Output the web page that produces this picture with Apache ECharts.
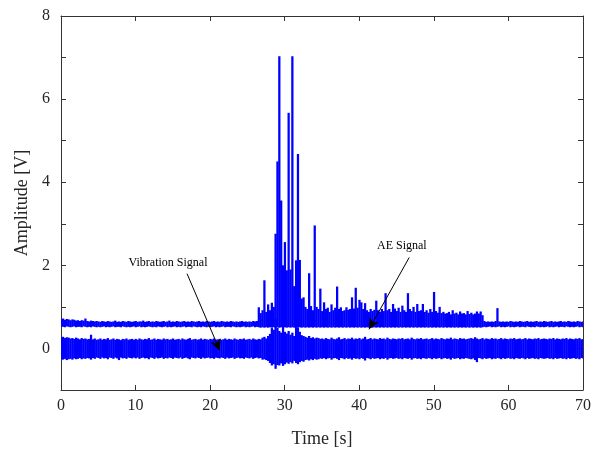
<!DOCTYPE html>
<html>
<head>
<meta charset="utf-8">
<script src="https://cdn.jsdelivr.net/npm/echarts@6/dist/echarts.min.js"></script>
<style>html,body{margin:0;padding:0;background:#fff;}#c{width:599px;height:450px;}</style>
</head>
<body>
<div id="c"></div>
<script>
// Sampling step of the envelope arrays (seconds)
var STEP = 0.25;
var X_TICKS = [0, 10, 20, 30, 40, 50, 60, 70];
var Y_TICKS = [0, 2, 4, 6, 8];

// AE signal: per-sample upper envelope
var aeHigh = [
0.70,0.72,0.69,0.71,0.70,0.68,0.70,0.69,0.67,0.68,0.66,0.68,0.67,0.72,0.66,0.65,0.67,0.66,0.65,0.66,
0.65,0.64,0.66,0.65,0.64,0.66,0.65,0.64,0.65,0.67,0.64,0.65,0.64,0.66,0.65,0.64,0.66,0.65,0.64,0.65,
0.66,0.64,0.65,0.65,0.67,0.64,0.65,0.66,0.64,0.65,0.64,0.66,0.65,0.64,0.65,0.66,0.64,0.65,0.67,0.64,
0.65,0.64,0.66,0.65,0.64,0.65,0.66,0.64,0.65,0.64,0.66,0.65,0.64,0.65,0.66,0.64,0.65,0.64,0.66,0.65,
0.64,0.65,0.66,0.64,0.65,0.64,0.66,0.65,0.64,0.65,0.64,0.66,0.65,0.64,0.65,0.64,0.65,0.66,0.64,0.65,
0.64,0.65,0.64,0.66,0.65,0.66,0.99,0.85,0.92,1.64,0.88,1.06,0.92,1.10,1.00,2.76,4.50,7.03,3.56,2.00,
2.56,1.88,5.67,1.90,7.03,1.50,2.12,4.68,2.13,1.20,1.23,1.00,0.95,1.81,1.02,0.92,2.96,1.00,0.95,1.44,
0.90,1.11,0.95,0.98,0.88,1.06,0.92,0.98,1.49,0.95,0.99,0.90,0.92,0.99,0.93,0.95,1.23,0.96,1.46,0.98,
1.17,1.11,0.95,1.09,0.92,0.88,0.95,0.90,0.93,1.15,0.92,0.88,0.95,0.90,1.33,0.92,0.95,0.88,1.07,0.96,
0.90,0.98,0.88,1.03,0.92,0.88,1.33,0.95,0.90,1.00,0.88,1.07,0.90,0.92,1.07,0.88,0.92,0.86,0.95,0.88,
1.36,0.90,0.86,1.00,0.85,0.88,0.84,0.85,0.88,0.82,0.92,0.84,0.86,0.82,0.89,0.84,0.85,0.82,0.90,0.83,
0.86,0.82,0.84,0.89,0.84,0.89,0.80,0.66,0.64,0.65,0.64,0.65,0.64,0.66,0.97,0.65,0.64,0.65,0.64,0.65,
0.64,0.66,0.65,0.64,0.65,0.64,0.66,0.65,0.64,0.65,0.66,0.64,0.65,0.64,0.65,0.66,0.64,0.65,0.64,0.66,
0.65,0.64,0.65,0.66,0.64,0.65,0.64,0.65,0.66,0.64,0.65,0.64,0.66,0.65,0.64,0.65,0.64,0.66,0.65,0.64,0.65
];
// AE signal: per-sample lower envelope
var aeLow = [
0.53,0.52,0.51,0.53,0.52,0.51,0.52,0.53,0.51,0.52,0.52,0.51,0.53,0.52,0.51,0.52,0.51,0.53,0.52,0.51,
0.52,0.51,0.52,0.53,0.51,0.52,0.51,0.52,0.53,0.51,0.52,0.52,0.51,0.53,0.52,0.51,0.52,0.51,0.52,0.53,
0.51,0.52,0.53,0.51,0.52,0.51,0.52,0.53,0.52,0.51,0.52,0.51,0.53,0.52,0.51,0.52,0.53,0.51,0.52,0.51,
0.52,0.53,0.51,0.52,0.51,0.52,0.53,0.51,0.52,0.52,0.51,0.53,0.52,0.51,0.52,0.51,0.53,0.52,0.51,0.52,
0.51,0.52,0.53,0.51,0.52,0.51,0.52,0.53,0.51,0.52,0.52,0.51,0.53,0.52,0.51,0.52,0.51,0.52,0.53,0.51,
0.52,0.51,0.52,0.53,0.51,0.52,0.51,0.50,0.51,0.50,0.51,0.50,0.51,0.50,0.51,0.50,0.51,0.50,0.51,0.50,
0.51,0.50,0.51,0.50,0.51,0.50,0.51,0.50,0.51,0.50,0.51,0.50,0.51,0.50,0.51,0.50,0.51,0.50,0.51,0.50,
0.51,0.50,0.51,0.50,0.51,0.50,0.51,0.50,0.51,0.50,0.51,0.50,0.51,0.50,0.51,0.50,0.51,0.50,0.51,0.50,
0.51,0.50,0.51,0.50,0.51,0.50,0.51,0.50,0.51,0.50,0.51,0.50,0.51,0.50,0.51,0.50,0.51,0.50,0.51,0.50,
0.51,0.50,0.51,0.50,0.51,0.50,0.51,0.50,0.51,0.50,0.51,0.50,0.51,0.50,0.51,0.50,0.51,0.50,0.51,0.50,
0.51,0.50,0.51,0.50,0.51,0.50,0.51,0.50,0.51,0.50,0.51,0.50,0.51,0.50,0.51,0.50,0.51,0.50,0.51,0.50,
0.51,0.50,0.51,0.50,0.51,0.50,0.51,0.52,0.51,0.52,0.53,0.51,0.52,0.51,0.52,0.53,0.51,0.52,0.51,0.52,
0.53,0.51,0.52,0.51,0.52,0.53,0.51,0.52,0.52,0.51,0.53,0.52,0.51,0.52,0.51,0.53,0.52,0.51,0.52,0.51,
0.52,0.53,0.51,0.52,0.51,0.52,0.53,0.51,0.52,0.52,0.51,0.53,0.52,0.51,0.52,0.51,0.52,0.53,0.51,0.52,0.51
];
// Vibration signal: per-sample upper envelope
var vibHigh = [
0.26,0.28,0.25,0.27,0.26,0.24,0.25,0.23,0.26,0.24,0.22,0.25,0.23,0.24,0.22,0.23,0.33,0.22,0.24,0.21,
0.22,0.24,0.21,0.23,0.22,0.25,0.21,0.22,0.24,0.21,0.23,0.22,0.20,0.23,0.22,0.24,0.21,0.22,0.23,0.21,
0.23,0.21,0.24,0.22,0.21,0.23,0.22,0.25,0.21,0.22,0.24,0.21,0.23,0.22,0.21,0.24,0.22,0.23,0.21,0.22,
0.24,0.21,0.22,0.23,0.21,0.24,0.22,0.21,0.23,0.25,0.21,0.22,0.23,0.21,0.22,0.24,0.21,0.23,0.22,0.21,
0.23,0.22,0.24,0.21,0.22,0.23,0.21,0.22,0.24,0.21,0.23,0.22,0.21,0.24,0.22,0.21,0.23,0.22,0.24,0.21,
0.22,0.23,0.21,0.24,0.22,0.21,0.23,0.22,0.26,0.28,0.24,0.30,0.35,0.49,0.45,0.72,0.50,0.42,0.38,0.60,
0.40,0.36,0.42,0.33,0.38,0.30,0.55,0.50,0.40,0.32,0.30,0.28,0.26,0.30,0.25,0.27,0.24,0.26,0.25,0.23,
0.24,0.22,0.25,0.23,0.22,0.26,0.23,0.22,0.24,0.27,0.22,0.23,0.25,0.22,0.24,0.23,0.26,0.22,0.24,0.23,
0.25,0.22,0.24,0.28,0.22,0.23,0.25,0.22,0.24,0.23,0.22,0.25,0.23,0.24,0.22,0.26,0.23,0.22,0.24,0.23,
0.22,0.24,0.23,0.25,0.22,0.23,0.24,0.22,0.26,0.23,0.22,0.24,0.23,0.25,0.22,0.23,0.24,0.22,0.23,0.25,
0.22,0.24,0.23,0.22,0.25,0.23,0.22,0.24,0.23,0.26,0.22,0.24,0.23,0.22,0.25,0.23,0.24,0.22,0.23,0.24,
0.25,0.23,0.27,0.24,0.22,0.23,0.25,0.22,0.24,0.23,0.22,0.25,0.23,0.24,0.22,0.23,0.25,0.22,0.24,0.23,
0.22,0.24,0.23,0.25,0.22,0.23,0.24,0.22,0.23,0.25,0.22,0.24,0.23,0.22,0.24,0.23,0.25,0.22,0.23,0.24,
0.23,0.22,0.24,0.23,0.25,0.22,0.24,0.23,0.22,0.24,0.23,0.25,0.22,0.24,0.23,0.22,0.24,0.23,0.25,0.22,0.23
];
// Vibration signal: per-sample lower envelope
var vibLow = [
-0.26,-0.27,-0.25,-0.28,-0.26,-0.25,-0.27,-0.24,-0.26,-0.25,-0.23,-0.26,-0.24,-0.25,-0.23,-0.24,-0.27,-0.23,-0.25,-0.22,
-0.23,-0.25,-0.22,-0.24,-0.23,-0.26,-0.22,-0.23,-0.25,-0.22,-0.24,-0.28,-0.22,-0.24,-0.23,-0.25,-0.22,-0.23,-0.24,-0.22,
-0.24,-0.22,-0.25,-0.23,-0.22,-0.24,-0.23,-0.26,-0.22,-0.23,-0.25,-0.22,-0.24,-0.23,-0.22,-0.25,-0.23,-0.24,-0.22,-0.23,
-0.25,-0.22,-0.23,-0.24,-0.22,-0.25,-0.23,-0.22,-0.24,-0.26,-0.22,-0.23,-0.24,-0.22,-0.23,-0.25,-0.22,-0.24,-0.23,-0.22,
-0.24,-0.23,-0.25,-0.22,-0.23,-0.24,-0.22,-0.23,-0.25,-0.22,-0.24,-0.23,-0.22,-0.25,-0.23,-0.22,-0.24,-0.23,-0.25,-0.22,
-0.23,-0.24,-0.22,-0.25,-0.23,-0.22,-0.24,-0.23,-0.27,-0.26,-0.28,-0.30,-0.35,-0.41,-0.38,-0.49,-0.40,-0.41,-0.36,-0.42,
-0.38,-0.34,-0.37,-0.33,-0.36,-0.30,-0.35,-0.38,-0.33,-0.30,-0.32,-0.28,-0.27,-0.29,-0.26,-0.28,-0.25,-0.27,-0.26,-0.24,
-0.25,-0.23,-0.26,-0.24,-0.23,-0.27,-0.24,-0.23,-0.25,-0.28,-0.23,-0.24,-0.26,-0.23,-0.25,-0.24,-0.27,-0.23,-0.25,-0.24,
-0.26,-0.23,-0.25,-0.29,-0.23,-0.24,-0.26,-0.23,-0.25,-0.24,-0.23,-0.26,-0.24,-0.25,-0.23,-0.27,-0.24,-0.23,-0.25,-0.24,
-0.23,-0.25,-0.24,-0.26,-0.23,-0.24,-0.25,-0.23,-0.27,-0.24,-0.23,-0.25,-0.24,-0.26,-0.23,-0.24,-0.25,-0.23,-0.24,-0.26,
-0.23,-0.25,-0.24,-0.23,-0.26,-0.24,-0.23,-0.25,-0.24,-0.27,-0.23,-0.25,-0.24,-0.23,-0.26,-0.24,-0.25,-0.23,-0.24,-0.25,
-0.26,-0.24,-0.28,-0.33,-0.23,-0.24,-0.26,-0.23,-0.25,-0.24,-0.23,-0.26,-0.24,-0.25,-0.23,-0.24,-0.26,-0.23,-0.25,-0.24,
-0.23,-0.25,-0.24,-0.26,-0.23,-0.24,-0.25,-0.23,-0.24,-0.26,-0.23,-0.25,-0.24,-0.23,-0.25,-0.24,-0.26,-0.23,-0.24,-0.25,
-0.24,-0.23,-0.25,-0.24,-0.26,-0.23,-0.25,-0.24,-0.23,-0.25,-0.24,-0.26,-0.23,-0.25,-0.24,-0.23,-0.25,-0.24,-0.26,-0.23,-0.24
];

// Annotations (data coordinates)
var vibLabel = { text: 'Vibration Signal', at: [14.35, 2.07], from: [16.9, 1.80], to: [21.3, -0.05] };
var aeLabel  = { text: 'AE Signal', at: [45.7, 2.48], from: [46.7, 2.19], to: [41.3, 0.46] };

function envelope(lo, hi) {
  var out = [];
  for (var i = 0; i < lo.length; i++) out.push([i * STEP, lo[i], hi[i]]);
  return out;
}

var FONT = '"Liberation Serif", "DejaVu Serif", serif';
var TXT = '#262626';

function bandRender(params, api) {
  var x = api.value(0), lo = api.value(1), hi = api.value(2);
  var pHi = api.coord([x, hi]);
  var pLo = api.coord([x, lo]);
  var w = api.size([STEP, 0])[0];
  return {
    type: 'rect',
    shape: { x: pHi[0] - w / 2, y: pHi[1], width: w + 0.4, height: Math.max(1, pLo[1] - pHi[1]) },
    style: { fill: '#0000ff' }
  };
}

var chart = echarts.init(document.getElementById('c'), null, { renderer: 'canvas' });
var axisLine = { show: true, onZero: false, lineStyle: { color: '#333', width: 1 } };
var tick = { show: true, inside: true, length: 5, lineStyle: { color: '#333' } };
chart.setOption({
  animation: false,
  backgroundColor: '#fff',
  grid: { left: 61, right: 16, top: 16, bottom: 60, containLabel: false, outerBoundsMode: 'none' },
  xAxis: [{
    type: 'value', min: X_TICKS[0], max: X_TICKS[X_TICKS.length - 1], interval: 10,
    name: 'Time [s]', nameLocation: 'middle', nameGap: 40,
    nameTextStyle: { fontFamily: FONT, fontSize: 18, color: TXT },
    axisLine: axisLine, splitLine: { show: false }, axisTick: tick,
    axisLabel: { fontFamily: FONT, fontSize: 16, color: TXT, margin: 8 }
  }, {
    type: 'value', position: 'top', min: X_TICKS[0], max: X_TICKS[X_TICKS.length - 1], interval: 10,
    axisLine: axisLine, splitLine: { show: false }, axisTick: tick,
    axisLabel: { show: false }
  }],
  yAxis: [{
    type: 'value', min: -1, max: 8, interval: 1,
    name: 'Amplitude [V]', nameLocation: 'middle', nameGap: 29,
    nameTextStyle: { fontFamily: FONT, fontSize: 18, color: TXT },
    axisLine: axisLine, splitLine: { show: false }, axisTick: tick,
    axisLabel: {
      fontFamily: FONT, fontSize: 16, color: TXT, margin: 11,
      formatter: function (v) { return Y_TICKS.indexOf(v) >= 0 ? String(v) : ''; }
    }
  }, {
    type: 'value', position: 'right', min: -1, max: 8, interval: 1,
    axisLine: axisLine, splitLine: { show: false }, axisTick: tick,
    axisLabel: { show: false }
  }],
  series: [{
    type: 'custom', name: 'Vibration Signal', clip: true,
    renderItem: bandRender, data: envelope(vibLow, vibHigh)
  }, {
    type: 'custom', name: 'AE Signal', clip: true,
    renderItem: bandRender, data: envelope(aeLow, aeHigh)
  }, {
    type: 'line', data: [], silent: true,
    markLine: {
      silent: true, symbol: ['none', 'arrow'], symbolSize: [8, 11],
      lineStyle: { color: '#000', width: 1, type: 'solid' },
      label: { show: false },
      data: [
        [{ coord: vibLabel.from }, { coord: vibLabel.to }],
        [{ coord: aeLabel.from }, { coord: aeLabel.to }]
      ]
    },
    markPoint: {
      silent: true, symbol: 'circle', symbolSize: 0,
      label: { show: true, position: 'inside', fontFamily: FONT, fontSize: 12, color: '#000' },
      data: [
        { coord: vibLabel.at, value: vibLabel.text, label: { formatter: vibLabel.text } },
        { coord: aeLabel.at, value: aeLabel.text, label: { formatter: aeLabel.text } }
      ]
    }
  }]
});
</script>
</body>
</html>
